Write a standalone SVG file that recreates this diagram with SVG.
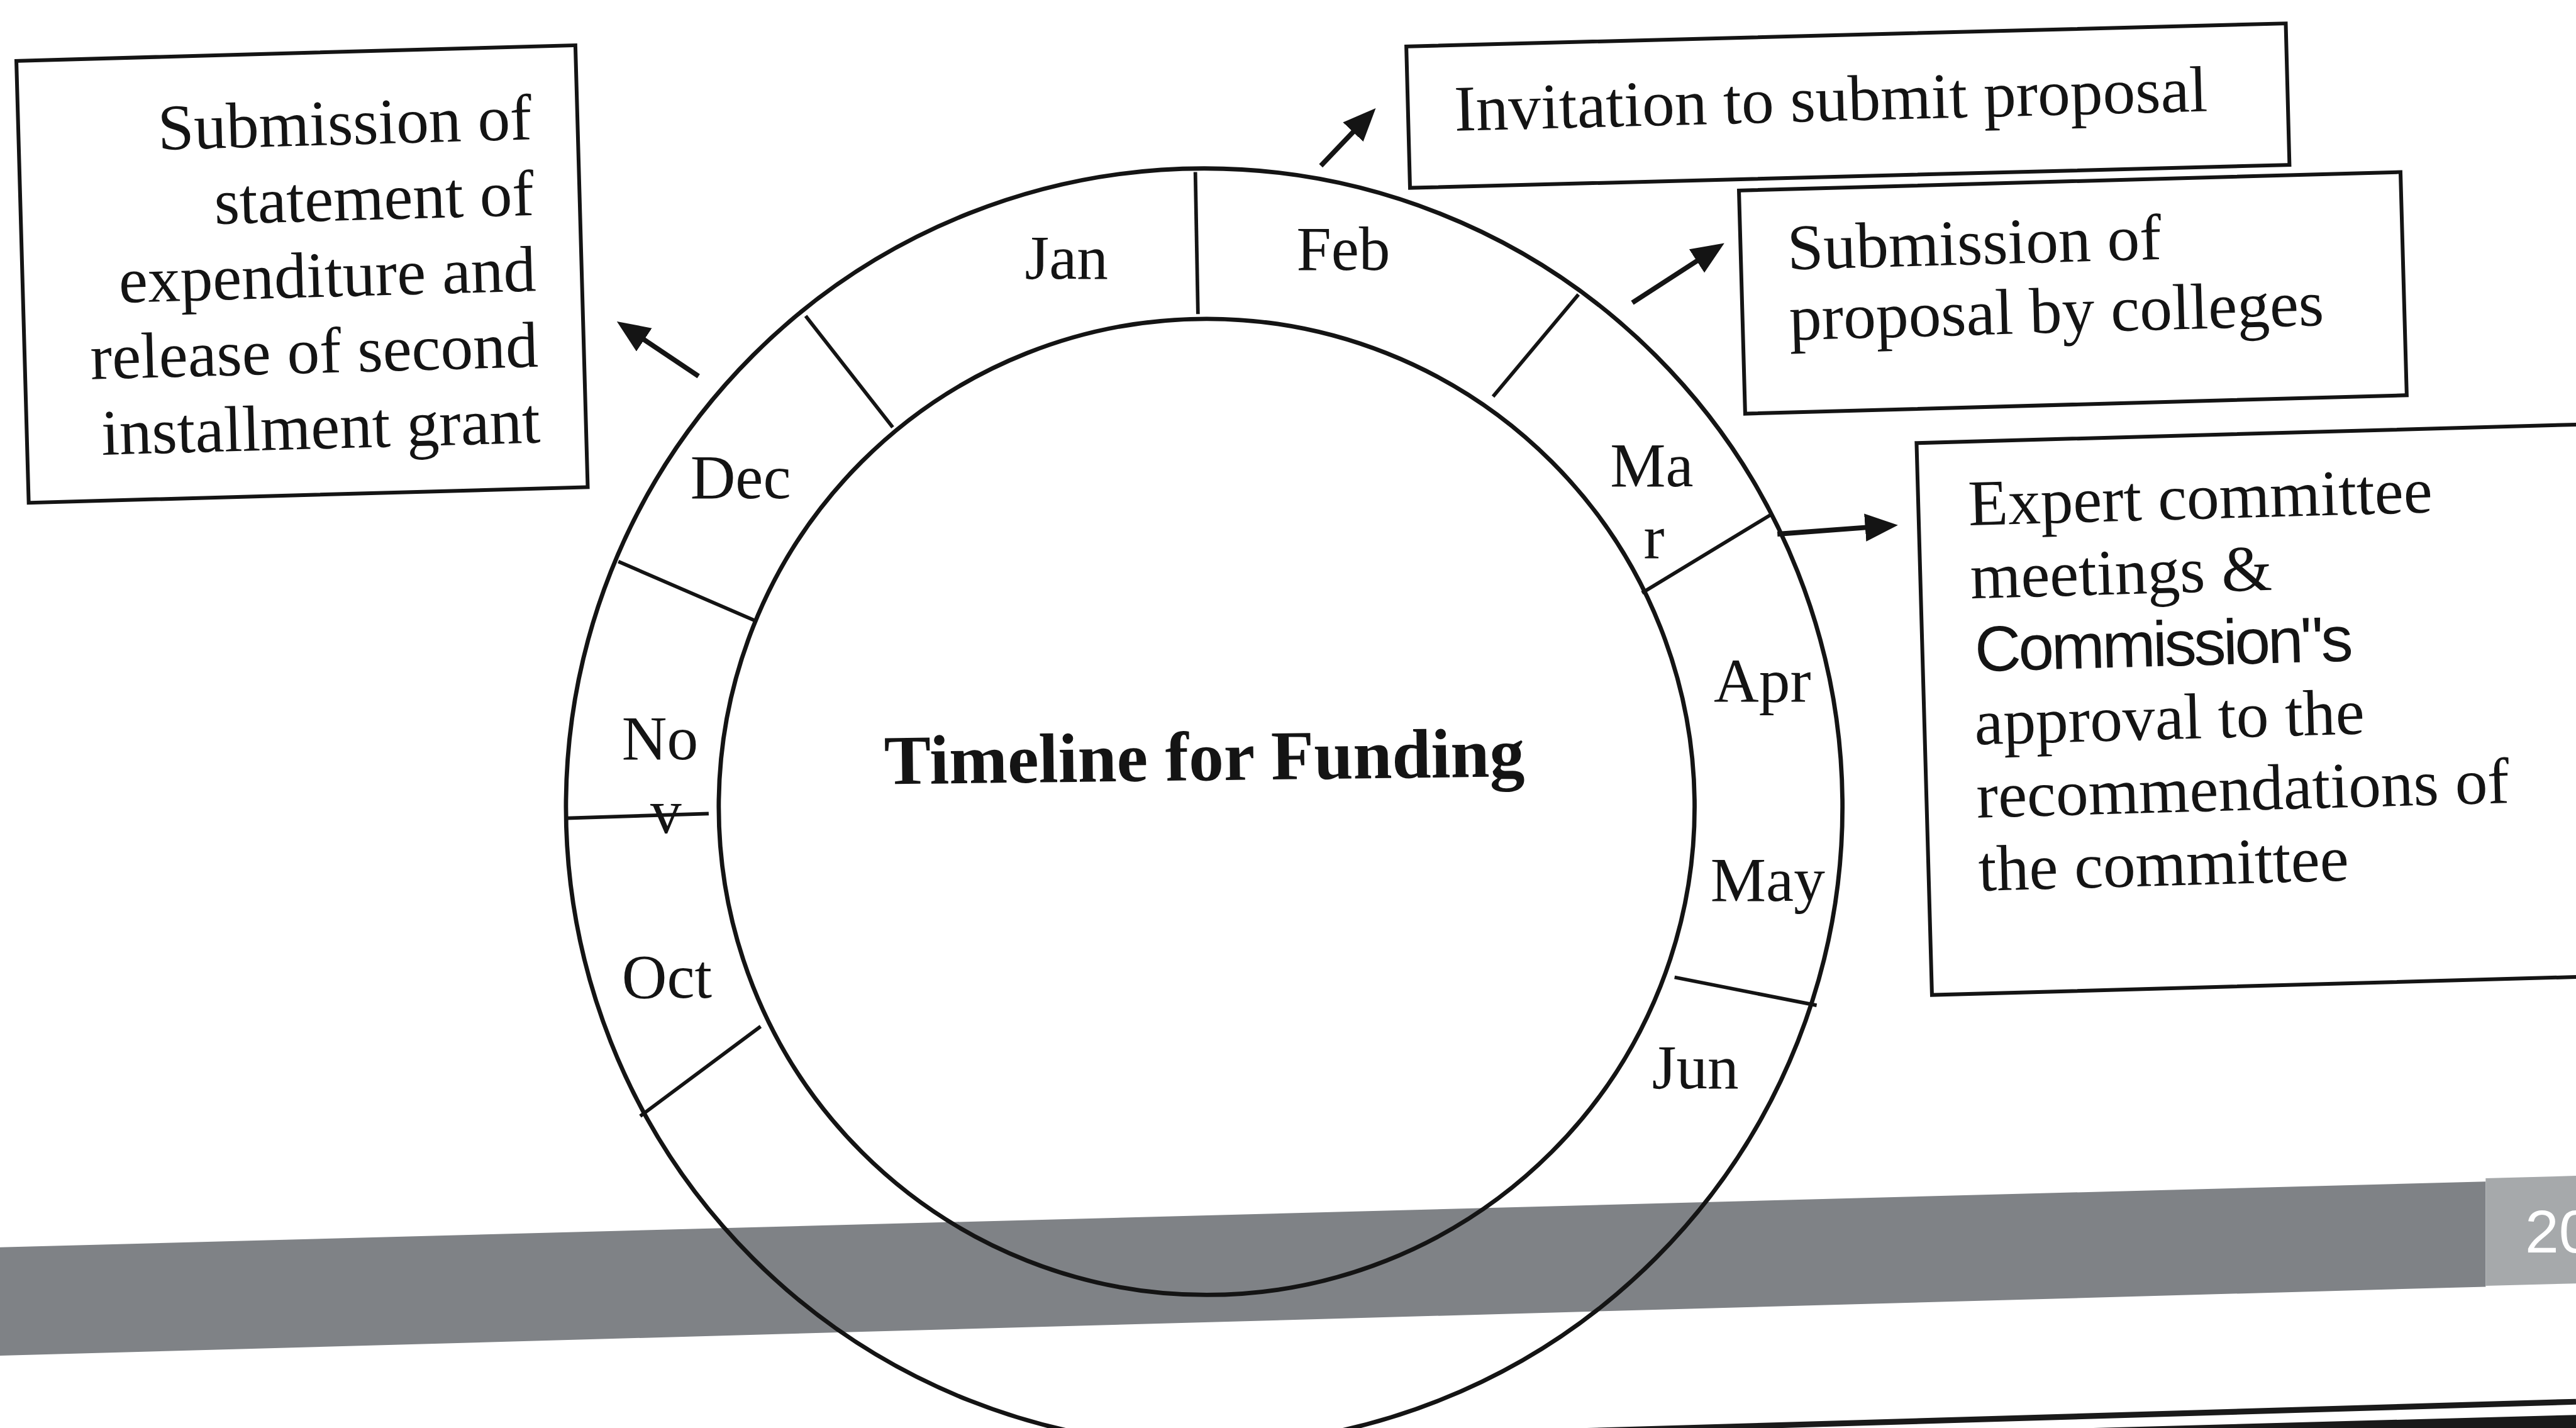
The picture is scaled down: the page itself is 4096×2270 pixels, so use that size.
<svg xmlns="http://www.w3.org/2000/svg" width="4096" height="2270" viewBox="0 0 4096 2270">
  <style>
    .ring { fill: none; stroke: #141414; stroke-width: 2.6; }
    .div { stroke: #141414; stroke-width: 2.2; fill: none; }
    .box { fill: #ffffff; stroke: #141414; stroke-width: 2.3; }
    .t { font-family: "Liberation Serif", "Times New Roman", serif; font-size: 39.6px; fill: #141414; }
    .r { text-anchor: end; }
    .mo { font-family: "Liberation Serif", "Times New Roman", serif; font-size: 38px; fill: #141414; }
    .title { font-family: "Liberation Serif", "Times New Roman", serif; font-size: 42.7px; font-weight: bold; fill: #141414; }
    .sans { font-family: "Liberation Sans", Arial, sans-serif; font-size: 39px; letter-spacing: -1.6px; fill: #141414; }
    .arrow { stroke: #141414; stroke-width: 3; fill: none; marker-end: url(#ah); }
  </style>
  <defs>
    <marker id="ah" markerUnits="userSpaceOnUse" markerWidth="22" markerHeight="18" refX="10" refY="8.5" orient="auto">
      <path d="M0,0 L20,8.5 L0,17 Z" fill="#141414"/>
    </marker>
  </defs>

  <rect width="4096" height="2270" fill="#ffffff"/>

  <g transform="scale(2.6122449)">
    <!-- footer band of the slide -->
    <g id="footer">
      <polygon points="0,759 1513,719 1513,783 0,825" fill="#7f8286"/>
      <polygon points="1513,717 1568,715.5 1568,781 1513,782.5" fill="#a6a9ab"/>
      <text x="1537" y="762" font-family="Liberation Sans, Arial, sans-serif" font-size="37" fill="#ffffff">20</text>
    </g>

    <!-- month ring -->
    <g id="ring">
      <circle class="ring" cx="733" cy="491" r="388.5"/>
      <circle class="ring" cx="734.5" cy="491" r="297"/>
      <line class="div" x1="727.6" y1="104.7" x2="729.2" y2="191.1"/>
      <line class="div" x1="960.8" y1="179.2" x2="908.8" y2="241.3"/>
      <line class="div" x1="1078.9" y1="312.6" x2="999.5" y2="360.8"/>
      <line class="div" x1="1019.3" y1="594.7" x2="1105.8" y2="611.8"/>
      <line class="div" x1="463" y1="624.6" x2="389.7" y2="679.2"/>
      <line class="div" x1="344.9" y1="497.9" x2="431.4" y2="495.1"/>
      <line class="div" x1="376.4" y1="341.7" x2="459.4" y2="377.6"/>
      <line class="div" x1="490.4" y1="192.3" x2="543.4" y2="260"/>
    </g>

    <g id="months">
      <text class="mo" x="623.8" y="169.6">Jan</text>
      <text class="mo" x="789.2" y="164.4">Feb</text>
      <text class="mo" x="980.1" y="295.9">Ma</text>
      <text class="mo" x="1000.5" y="340.1">r</text>
      <text class="mo" x="1043.2" y="427.4">Apr</text>
      <text class="mo" x="1041.2" y="548.1">May</text>
      <text class="mo" x="1005.6" y="662.4">Jun</text>
      <text class="mo" x="378.5" y="607.1">Oct</text>
      <text class="mo" x="378.5" y="462">No</text>
      <text class="mo" x="395.8" y="507">v</text>
      <text class="mo" x="420.2" y="303.1">Dec</text>
    </g>

    <g id="title">
      <text class="title" x="538.3" y="477.2" transform="rotate(-0.7 538.3 477.2)">Timeline for Funding</text>
    </g>

    <!-- event boxes -->
    <g id="box-expenditure" transform="rotate(-1.6 183.85 166.75)">
      <rect class="box" x="13.65" y="32.25" width="340.4" height="269"/>
      <text class="t r" x="326.2" y="88.7">Submission of</text>
      <text class="t r" x="326.2" y="134.85">statement of</text>
      <text class="t r" x="326.2" y="181">expenditure and</text>
      <text class="t r" x="326.2" y="227.15">release of second</text>
      <text class="t r" x="326.2" y="273.3">installment grant</text>
    </g>

    <g id="box-invitation" transform="rotate(-1.5 1124.8 64.3)">
      <rect class="box" x="857.05" y="21.25" width="535.5" height="86.1"/>
      <text class="t" x="885.2" y="73.3">Invitation to submit proposal</text>
    </g>

    <g id="box-submission" transform="rotate(-1.6 1261.7 178.2)">
      <rect class="box" x="1060.3" y="110.3" width="402.85" height="135.86"/>
      <text class="t" x="1088.7" y="159.2">Submission of</text>
      <text class="t" x="1088.7" y="202.1">proposal by colleges</text>
    </g>

    <g id="box-committee" transform="rotate(-1.6 1166.6 269.6)">
      <rect class="box" x="1166.6" y="269.6" width="460" height="336"/>
      <text class="t" x="1197" y="320.5">Expert committee</text>
      <text class="t" x="1197" y="365">meetings &amp;</text>
      <text class="sans" x="1198.5" y="409.5">Commission"s</text>
      <text class="t" x="1197" y="454">approval to the</text>
      <text class="t" x="1197" y="498.5">recommendations of</text>
      <text class="t" x="1197" y="543">the committee</text>
    </g>

    <!-- connectors from the ring to the boxes -->
    <g id="connectors">
      <line class="arrow" x1="804" y1="100.9" x2="830.5" y2="73.1"/>
      <line class="arrow" x1="993.6" y1="184.2" x2="1041.2" y2="153.4"/>
      <line class="arrow" x1="1081.9" y1="325" x2="1145.3" y2="320.3"/>
      <line class="arrow" x1="425.2" y1="228.9" x2="383.8" y2="201.2"/>
    </g>

    <!-- rules along the lower edge -->
    <g id="edge-rules">
      <line x1="957" y1="871" x2="1568" y2="853" stroke="#1a1a1a" stroke-width="3.5"/>
      <polygon points="1200,871 1568,861 1568,872 1200,872" fill="#1a1a1a"/>
    </g>
  </g>
</svg>
